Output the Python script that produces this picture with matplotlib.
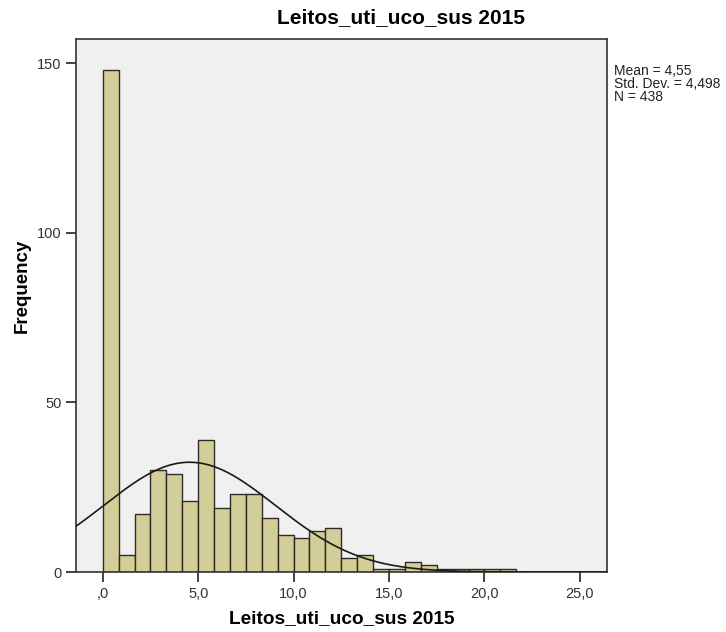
import numpy as np
import matplotlib.pyplot as plt

plt.rcParams['font.family'] = ['Liberation Sans', 'DejaVu Sans']

# histogram counts, 26 bins of width 5/6 starting at 0
binWidth = 5 / 6
counts = [148, 5, 17, 30, 29, 21, 39, 19, 23, 23, 16, 11, 10,
          12, 13, 4, 5, 1, 1, 3, 2, 1, 1, 1, 1, 1]
mean = 4.55
stdDev = 4.498
nCases = 438

xTicks = [0, 5, 10, 15, 20, 25]
xTickLabels = [',0', '5,0', '10,0', '15,0', '20,0', '25,0']
yTicks = [0, 50, 100, 150]

fig = plt.figure(figsize=(7.26, 6.32), dpi=100)
ax = fig.add_axes([76/726, 60/632, 531/726, 533/632])
ax.set_facecolor('#f0f0f0')

edges = np.arange(len(counts)) * binWidth
ax.bar(edges, counts, width=binWidth, align='edge',
       color='#d3ce97', edgecolor='#2b2b2b', linewidth=1.0, zorder=2)

xmin, xmax = -1.40, 26.42
xs = np.linspace(xmin, xmax, 400)
pdf = np.exp(-0.5 * ((xs - mean) / stdDev) ** 2) / (stdDev * np.sqrt(2 * np.pi))
ax.plot(xs, nCases * binWidth * pdf, color='#1a1a1a', linewidth=1.2, zorder=3)

ax.set_xlim(xmin, xmax)
ax.set_ylim(0, 157.2)
ax.set_xticks(xTicks)
ax.set_xticklabels(xTickLabels)
ax.set_yticks(yTicks)
ax.tick_params(direction='out', length=7, width=1.2, colors='#222222',
               labelsize=10.5, labelcolor='#333333')
for s in ax.spines.values():
    s.set_color('#333333')
    s.set_linewidth(1.2)

ax.set_xlabel('Leitos_uti_uco_sus 2015', fontsize=13.7, fontweight='bold', labelpad=7)
ax.set_ylabel('Frequency', fontsize=13.5, fontweight='bold')
ax.yaxis.set_label_coords(-0.085, 0.537)

fig.text(401/726, 1 - 18/632, 'Leitos_uti_uco_sus 2015', ha='center', va='center',
         fontsize=15, fontweight='bold')
fig.text(614/726, 1 - 64/632,
         'Mean = %s\nStd. Dev. = %s\nN = %d' % ('4,55', '4,498', nCases),
         ha='left', va='top', fontsize=10, color='#222222', linespacing=0.9)

fig.savefig('out.png', dpi=100)
